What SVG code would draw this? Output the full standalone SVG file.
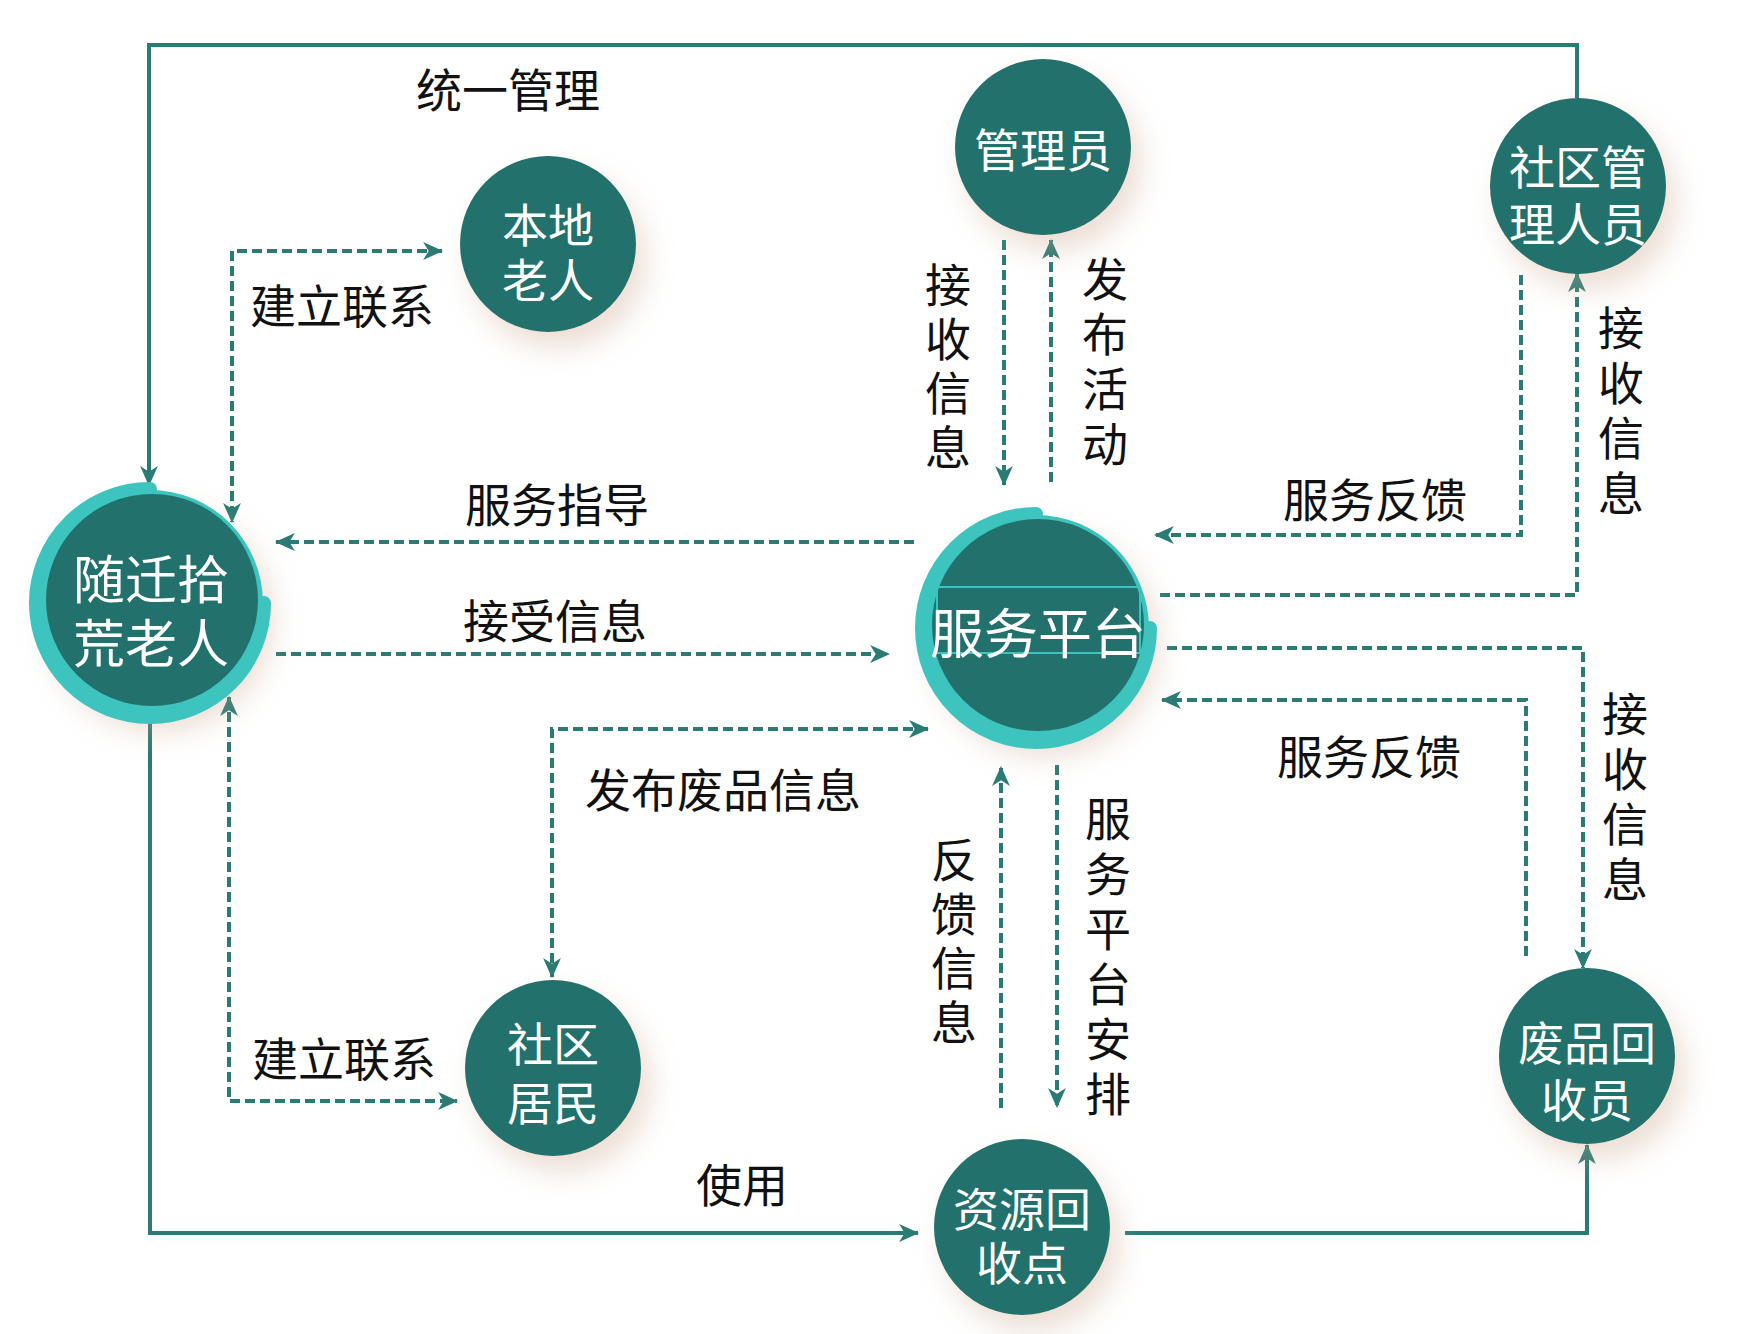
<svg xmlns="http://www.w3.org/2000/svg" width="1743" height="1334" viewBox="0 0 1743 1334">
<style>
.bg{fill:#ffffff}
.node{fill:#22716C}
.ring{fill:#3DC4BE}
.arc{fill:none;stroke:#3DC4BE;stroke-width:14;stroke-linecap:round}
.nt{font-family:"Noto Sans CJK SC","Noto Sans",sans-serif;fill:#ffffff;text-anchor:middle;dominant-baseline:central}
.lb{font-family:"Noto Sans CJK SC","Noto Sans",sans-serif;fill:#111111;font-size:46px;text-anchor:middle;dominant-baseline:central}
.lbv{font-family:"Noto Sans CJK SC","Noto Sans",sans-serif;fill:#111111;font-size:46px;text-anchor:middle;writing-mode:vertical-rl;letter-spacing:8px}
.solid{fill:none;stroke:#2A7B74;stroke-width:4}
.dash{fill:none;stroke:#2A7B74;stroke-width:4;stroke-dasharray:10 5}
</style>
<defs>
<marker id="arr" markerUnits="userSpaceOnUse" markerWidth="20" markerHeight="20" viewBox="0 0 18 18" refX="17" refY="9" orient="auto-start-reverse">
<path d="M0,1 L18,9 L0,17 L5,9 Z" fill="#2A7B74"/>
</marker>
<filter id="sh" x="-40%" y="-40%" width="190%" height="190%">
<feDropShadow dx="10" dy="16" stdDeviation="14" flood-color="#C9A184" flood-opacity="0.35"/>
</filter>
</defs>
<rect class="bg" x="0" y="0" width="1743" height="1334"/>

<g id="connectors">
<path class="solid" d="M1577,98 L1577,45 L149,45 L149,485" marker-end="url(#arr)"/>
<path class="dash" d="M442,251 L232,251 L232,522" marker-start="url(#arr)" marker-end="url(#arr)"/>
<path class="dash" d="M914,542 L276,542" marker-end="url(#arr)"/>
<path class="dash" d="M276,654 L889,654" marker-end="url(#arr)"/>
<path class="dash" d="M928,729 L552,729 L552,977" marker-start="url(#arr)" marker-end="url(#arr)"/>
<path class="dash" d="M229,697 L229,1101 L457,1101" marker-start="url(#arr)" marker-end="url(#arr)"/>
<path class="solid" d="M150,722 L150,1233 L918,1233" marker-end="url(#arr)"/>
<path class="solid" d="M1125,1233 L1587,1233 L1587,1145" marker-end="url(#arr)"/>
<path class="dash" d="M1004,240 L1004,485" marker-end="url(#arr)"/>
<path class="dash" d="M1051,482 L1051,240" marker-end="url(#arr)"/>
<path class="dash" d="M1521,275 L1521,535 L1155,535" marker-end="url(#arr)"/>
<path class="dash" d="M1160,595 L1577,595 L1577,273" marker-end="url(#arr)"/>
<path class="dash" d="M1167,648 L1583,648 L1583,968" marker-end="url(#arr)"/>
<path class="dash" d="M1526,956 L1526,700 L1162,700" marker-end="url(#arr)"/>
<path class="dash" d="M1001,1108 L1001,767" marker-end="url(#arr)"/>
<path class="dash" d="M1057,765 L1057,1107" marker-end="url(#arr)"/>
</g>

<g id="labels">
<text class="lb" x="508" y="87">统一管理</text>
<text class="lb" x="342" y="303">建立联系</text>
<text class="lb" x="557" y="502">服务指导</text>
<text class="lb" x="555" y="618">接受信息</text>
<text class="lb" x="723" y="787">发布废品信息</text>
<text class="lb" x="344" y="1056">建立联系</text>
<text class="lb" x="742" y="1182">使用</text>
<text class="lb" x="1375" y="497">服务反馈</text>
<text class="lb" x="1369" y="754">服务反馈</text>
<text class="lbv" x="948" y="370">接收信息</text>
<text class="lbv" x="1105" y="366" style="letter-spacing:9px">发布活动</text>
<text class="lbv" x="954" y="945">反馈信息</text>
<text class="lbv" x="1108" y="961" style="letter-spacing:9px">服务平台安排</text>
<text class="lbv" x="1621" y="415" style="letter-spacing:9px">接收信息</text>
<text class="lbv" x="1625" y="801" style="letter-spacing:9px">接收信息</text>
</g>

<g id="node-elder-migrant">
<circle class="ring" cx="150" cy="603" r="113" filter="url(#sh)"/>
<path class="arc" d="M150,489 A114,114 0 1 0 264,603"/>
<circle class="node" cx="152" cy="600" r="106"/>
<text class="nt" x="151" y="576" font-size="52">随迁拾</text>
<text class="nt" x="151" y="640" font-size="52">荒老人</text>
</g>

<g id="node-platform">
<circle class="ring" cx="1036" cy="628" r="113" filter="url(#sh)"/>
<path class="arc" d="M1036,514 A114,114 0 1 0 1150,628"/>
<circle class="node" cx="1038" cy="625" r="106"/>
<rect x="937" y="587" width="203" height="66" fill="none" stroke="#3DC4BE" stroke-width="2"/>
<text class="nt" x="1038" y="630" font-size="54">服务平台</text>
</g>

<g id="node-admin">
<circle class="node" cx="1043" cy="147" r="88" filter="url(#sh)"/>
<text class="nt" x="1043" y="147" font-size="46">管理员</text>
</g>

<g id="node-community-manager">
<circle class="node" cx="1578" cy="186" r="88" filter="url(#sh)"/>
<text class="nt" x="1578" y="164" font-size="46">社区管</text>
<text class="nt" x="1578" y="221" font-size="46">理人员</text>
</g>

<g id="node-local-elder">
<circle class="node" cx="548" cy="244" r="88" filter="url(#sh)"/>
<text class="nt" x="548" y="222" font-size="46">本地</text>
<text class="nt" x="548" y="277" font-size="46">老人</text>
</g>

<g id="node-residents">
<circle class="node" cx="553" cy="1068" r="88" filter="url(#sh)"/>
<text class="nt" x="553" y="1041" font-size="46">社区</text>
<text class="nt" x="553" y="1100" font-size="46">居民</text>
</g>

<g id="node-recycle-point">
<circle class="node" cx="1022" cy="1227" r="88" filter="url(#sh)"/>
<text class="nt" x="1022" y="1206" font-size="46">资源回</text>
<text class="nt" x="1022" y="1260" font-size="46">收点</text>
</g>

<g id="node-collector">
<circle class="node" cx="1587" cy="1056" r="88" filter="url(#sh)"/>
<text class="nt" x="1587" y="1040" font-size="46">废品回</text>
<text class="nt" x="1587" y="1097" font-size="46">收员</text>
</g>
</svg>
